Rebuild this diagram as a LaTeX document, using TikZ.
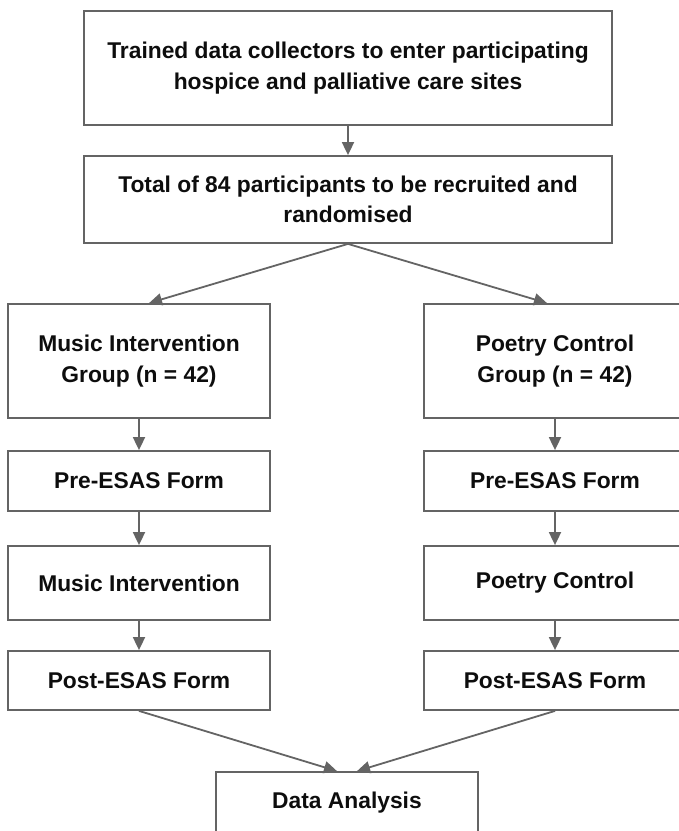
\documentclass[tikz,border=0pt]{standalone}
\usepackage{fontspec}
\setmainfont{Liberation Sans}
\usetikzlibrary{arrows.meta,calc}
\definecolor{edgegray}{HTML}{646464}
\definecolor{txt}{HTML}{0D0D0D}
\begin{document}
\begin{tikzpicture}[x=1pt,y=-1pt,
  boxstyle/.style={draw=edgegray, line width=1.8pt, rectangle, inner sep=0pt,
    align=center, text=txt, font=\bfseries\fontsize{22.8}{30.5}\selectfont},
  arr/.style={draw=edgegray, line width=1.8pt,
    -{Triangle[length=13pt,width=12pt]}, shorten >=0pt}]
\useasboundingbox (0,0) rectangle (679,831);
\node[boxstyle, minimum width=528pt, minimum height=114pt] (top) at (348,68)
  {Trained data collectors to enter participating\\hospice and palliative care sites};
\node[boxstyle, minimum width=528pt, minimum height=87pt] (total) at (348,199.5)
  {Total of 84 participants to be recruited and\\randomised};
\node[boxstyle, minimum width=262pt, minimum height=114pt] (mig) at (139,361)
  {Music Intervention\\Group (n = 42)};
\node[boxstyle, minimum width=262pt, minimum height=114pt] (pcg) at (555,361)
  {Poetry Control\\Group (n = 42)};
\node[boxstyle, minimum width=262pt, minimum height=60pt] (pre1) at (139,481) {Pre-ESAS Form};
\node[boxstyle, minimum width=262pt, minimum height=60pt] (pre2) at (555,481) {Pre-ESAS Form};
\node[boxstyle, minimum width=262pt, minimum height=74pt] (mi) at (139,583) {Music Intervention};
\node[boxstyle, minimum width=262pt, minimum height=74pt] (pc) at (555,583) {Poetry Control};
\node[boxstyle, minimum width=262pt, minimum height=59pt] (post1) at (139,680.5) {Post-ESAS Form};
\node[boxstyle, minimum width=262pt, minimum height=59pt] (post2) at (555,680.5) {Post-ESAS Form};
\node[boxstyle, minimum width=262pt, minimum height=62pt] (da) at (347,803) {Data Analysis};
\draw[arr] (top.south) -- (total.north);
\draw[arr] (total.south) -- ($(mig.north)+(10,0)$);
\draw[arr] (total.south) -- ($(pcg.north)+(-8,0)$);
\draw[arr] (mig.south) -- (pre1.north);
\draw[arr] (pcg.south) -- (pre2.north);
\draw[arr] (pre1.south) -- (mi.north);
\draw[arr] (pre2.south) -- (pc.north);
\draw[arr] (mi.south) -- (post1.north);
\draw[arr] (pc.south) -- (post2.north);
\draw[arr] (post1.south) -- ($(da.north)+(-10,0)$);
\draw[arr] (post2.south) -- ($(da.north)+(10,0)$);
\end{tikzpicture}
\end{document}
